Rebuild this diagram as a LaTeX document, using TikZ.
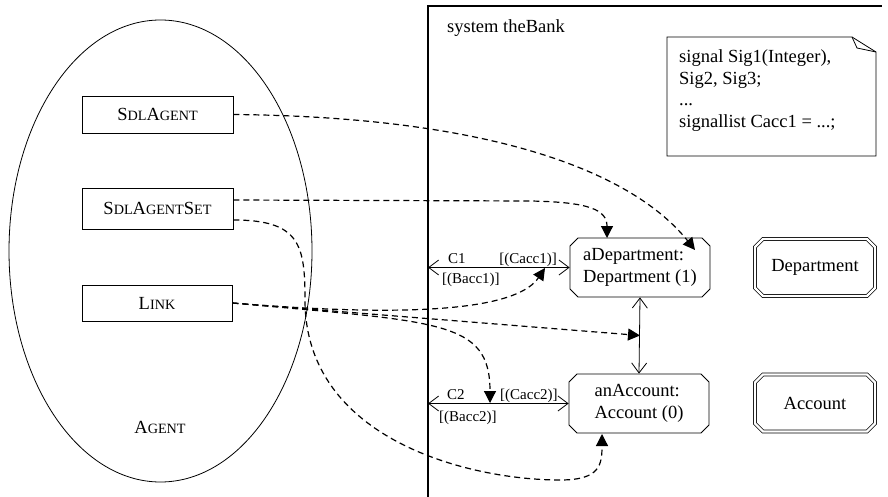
\documentclass[tikz,border=0pt]{standalone}
\usepackage{fontspec}
\setmainfont{Liberation Serif}
\usetikzlibrary{arrows.meta,shapes.misc,shapes.geometric,calc}
% reduced capitals for the small-caps class names
\newcommand\lowcap[1]{{\fontsize{14.2}{17}\selectfont #1}}
\begin{document}
\begin{tikzpicture}[x=1pt,y=-1pt,
  every node/.style={font=\fontsize{18.5}{22}\selectfont},
  classbox/.style={draw, line width=0.8pt, inner sep=0pt, minimum width=151pt},
  agentshape/.style={chamfered rectangle, chamfered rectangle xsep=4pt,
    chamfered rectangle ysep=4pt, draw, line width=0.8pt,
    minimum width=140pt, minimum height=59pt, inner sep=0pt, align=left},
  typeshape/.style={chamfered rectangle, chamfered rectangle xsep=4pt,
    chamfered rectangle ysep=4pt, draw, double, double distance=2.2pt,
    line width=0.8pt, minimum width=120pt, minimum height=57pt, inner sep=0pt},
  chan/.style={line width=0.8pt,
    {Straight Barb[length=10pt,width=15pt]}-{Straight Barb[length=10pt,width=15pt]}},
  dep/.style={dash pattern=on 6pt off 4pt, line width=1.2pt,
    -{Triangle[length=12pt,width=12pt]}},
  lbl/.style={font=\fontsize{15}{17}\selectfont, inner sep=0pt, anchor=base west},
  frameline/.style={line width=1.2pt},
]
\useasboundingbox (0,0) rectangle (888,497);

% ---- the agent metaclass with its three classes
\node[ellipse, draw, line width=0.8pt, minimum width=303pt, minimum height=462pt] (agent) at (160.5,251) {};
\node (agentname) at (160,427) {A\lowcap{GENT}};
\node[classbox, minimum height=37pt] (sa)   at (157.5,114.5) {S\lowcap{DL}A\lowcap{GENT}};
\node[classbox, minimum height=41pt] (sas)  at (157.5,208.5) {S\lowcap{DL}A\lowcap{GENT}S\lowcap{ET}};
\node[classbox, minimum height=36pt, minimum width=150pt] (link) at (157,303) {L\lowcap{INK}};

% ---- system frame
\coordinate (fbl) at (428,497);
\coordinate (ftl) at (428,6);
\coordinate (ftr) at (882,6);
\draw[frameline] (fbl) -- (ftl) -- (ftr);
\node[inner sep=0pt, anchor=base west] (sysname) at (447,33) {system theBank};

% ---- text symbol with signal declarations
\coordinate (n1) at (667,37);
\coordinate (n2) at (852,37);
\coordinate (n3) at (876,52);
\coordinate (n4) at (876,156);
\coordinate (n5) at (667,156);
\coordinate (nf) at (857,48);
\draw[line width=0.8pt] (n1) -- (n2) -- (n3) -- (n4) -- (n5) -- cycle;
\draw[line width=0.8pt] (n2) -- (nf) -- (n3);
\node[inner sep=0pt, anchor=base west] (t1) at (679,63) {signal Sig1(Integer),};
\node[inner sep=0pt, anchor=base west] (t2) at (679,84.5) {Sig2, Sig3;};
\node[inner sep=0pt, anchor=base west] (t3) at (679,106) {...};
\node[inner sep=0pt, anchor=base west] (t4) at (679,127.5) {signallist Cacc1 = ...;};

% ---- agents and agent types
\node[agentshape] (adep) at (640,267.5) {aDepartment:\\Department (1)};
\node[agentshape] (acc)  at (639,403.5) {anAccount:\\Account (0)};
\node[typeshape] (tdep) at (815,267.5) {Department};
\node[typeshape] (tacc) at (815,403) {Account};

% ---- channels
\coordinate (c1end) at (428,267.5);
\coordinate (c2end) at (428,403.5);
\draw[chan] (c1end) -- (adep.west);
\draw[chan] (c2end) -- (acc.west);
\node[lbl] (c1name) at (448,263) {C1};
\node[lbl, anchor=base east] (c1out) at (557,263) {[(Cacc1)]};
\node[lbl] (c1in) at (442,283) {[(Bacc1)]};
\node[lbl] (c2name) at (447,399) {C2};
\node[lbl] (c2out) at (500,399) {[(Cacc2)]};
\node[lbl] (c2in) at (439,421) {[(Bacc2)]};
\draw[chan] (adep.south) -- (acc.north);

% ---- mapping of the metaclasses onto the system
\coordinate (hitA) at (695,250);
\coordinate (hitB) at (607,238);
\coordinate (hitC) at (602,434);
\coordinate (hitD) at (545,268);
\coordinate (hitE) at (490,403);
\coordinate (hitF) at (640,335.5);
\draw[dep] (sa.east) .. controls (500,117) and (635,175) .. (hitA);
\draw[dep] ($(sas.east)+(0,-8.5)$) -- (530,201) .. controls (590,202) and (607,210) .. (hitB);
\draw[dep] ($(sas.east)+(0,11.5)$) .. controls (300,220) and (305,245) .. (305,300)
  .. controls (305,440) and (470,480) .. (560,480) .. controls (600,480) and (602,465) .. (hitC);
\draw[dep] (link.east) -- (hitF);
\draw[dep] (link.east) .. controls (440,320) and (520,305) .. (hitD);
\draw[dep] (link.east) .. controls (440,322) and (490,320) .. (hitE);
\end{tikzpicture}
\end{document}
